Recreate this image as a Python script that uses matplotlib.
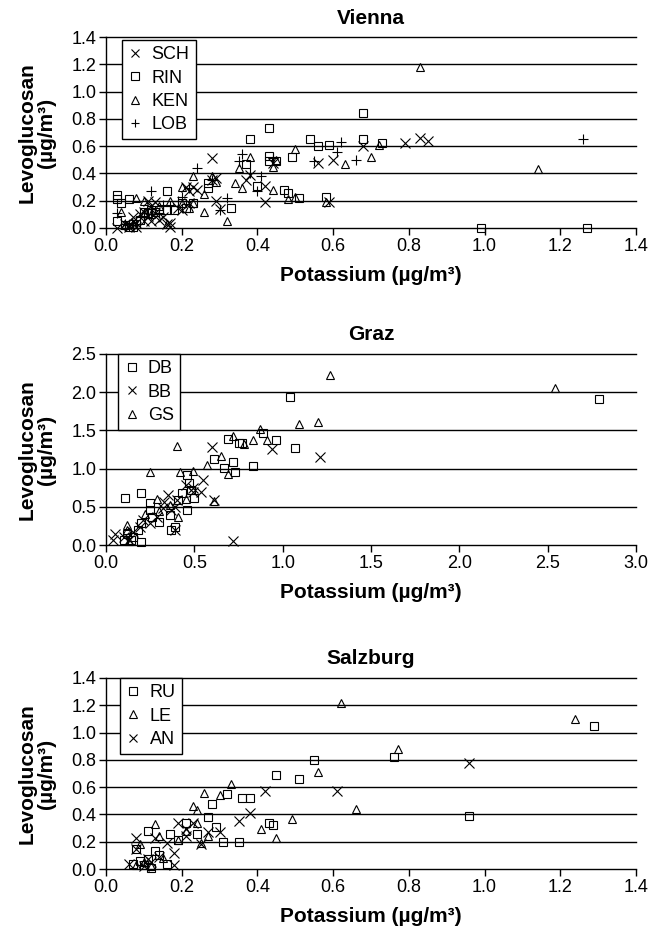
import matplotlib
matplotlib.use("Agg")
import matplotlib.pyplot as plt
from matplotlib.transforms import offset_copy

plt.rcParams['font.family'] = ['Liberation Sans', 'DejaVu Sans']

# ---------------- Vienna ----------------
vie_sch_x = [0.03, 0.05, 0.06, 0.07, 0.08, 0.09, 0.10, 0.11, 0.12, 0.12, 0.13, 0.14, 0.15, 0.16, 0.17, 0.17,
             0.20, 0.21, 0.22, 0.22, 0.23, 0.24, 0.28, 0.28, 0.29, 0.29, 0.30, 0.37, 0.38, 0.42, 0.42, 0.56,
             0.60, 0.59, 0.68, 0.79, 0.83, 0.85, 0.44, 0.10, 0.06, 0.08, 0.11, 0.13, 0.19]
vie_sch_y = [0.00, 0.03, 0.02, 0.08, 0.04, 0.10, 0.05, 0.20, 0.16, 0.05, 0.19, 0.06, 0.08, 0.03, 0.01, 0.04,
             0.13, 0.30, 0.18, 0.27, 0.30, 0.28, 0.51, 0.35, 0.20, 0.37, 0.14, 0.35, 0.39, 0.31, 0.19, 0.48,
             0.50, 0.19, 0.60, 0.62, 0.66, 0.64, 0.48, 0.12, 0.01, 0.01, 0.09, 0.11, 0.15]

vie_rin_x = [0.03, 0.03, 0.04, 0.03, 0.06, 0.07, 0.08, 0.09, 0.11, 0.12, 0.14, 0.16, 0.16, 0.18, 0.20, 0.23,
             0.27, 0.27, 0.33, 0.37, 0.38, 0.40, 0.43, 0.43, 0.43, 0.45, 0.47, 0.48, 0.49, 0.51, 0.54, 0.56,
             0.59, 0.58, 0.68, 0.68, 0.73, 0.99, 1.27, 0.10, 0.07, 0.13, 0.05, 0.06, 0.21]
vie_rin_y = [0.24, 0.21, 0.18, 0.05, 0.21, 0.01, 0.03, 0.06, 0.11, 0.13, 0.13, 0.27, 0.13, 0.13, 0.18, 0.18,
             0.29, 0.33, 0.15, 0.47, 0.65, 0.31, 0.73, 0.53, 0.49, 0.49, 0.28, 0.26, 0.52, 0.22, 0.65, 0.60,
             0.61, 0.23, 0.84, 0.65, 0.62, 0.00, 0.00, 0.12, 0.03, 0.12, 0.02, 0.01, 0.15]

vie_ken_x = [0.04, 0.05, 0.08, 0.10, 0.10, 0.14, 0.17, 0.20, 0.20, 0.23, 0.23, 0.26, 0.26, 0.28, 0.32, 0.34,
             0.35, 0.36, 0.38, 0.44, 0.44, 0.45, 0.48, 0.50, 0.50, 0.58, 0.63, 0.70, 0.72, 0.83, 1.14, 0.07,
             0.12, 0.16, 0.22, 0.29]
vie_ken_y = [0.12, 0.02, 0.22, 0.20, 0.11, 0.16, 0.20, 0.30, 0.18, 0.38, 0.18, 0.12, 0.25, 0.38, 0.05, 0.33,
             0.44, 0.29, 0.52, 0.45, 0.28, 0.50, 0.21, 0.23, 0.58, 0.19, 0.47, 0.52, 0.61, 1.18, 0.43, 0.03,
             0.10, 0.03, 0.15, 0.34]

vie_lob_x = [0.03, 0.05, 0.07, 0.09, 0.12, 0.12, 0.14, 0.15, 0.17, 0.19, 0.20, 0.22, 0.24, 0.28, 0.30, 0.32,
             0.36, 0.35, 0.38, 0.41, 0.40, 0.44, 0.55, 0.61, 0.62, 0.66, 1.26]
vie_lob_y = [0.11, 0.03, 0.02, 0.08, 0.27, 0.14, 0.11, 0.17, 0.16, 0.20, 0.23, 0.29, 0.44, 0.35, 0.13, 0.22,
             0.54, 0.49, 0.40, 0.38, 0.27, 0.51, 0.49, 0.56, 0.63, 0.50, 0.65]

# ---------------- Graz ----------------
gra_db_x = [0.11, 0.20, 1.04, 1.07, 0.69, 0.75, 0.77, 0.89, 0.96, 0.61, 0.67, 0.72, 0.73, 0.83, 0.46, 0.47,
            0.48, 0.50, 0.43, 0.41, 0.46, 0.39, 0.37, 0.25, 0.25, 0.26, 0.20, 0.18, 0.12, 0.14, 0.20, 0.10,
            0.36, 2.79, 0.30, 0.15]
gra_db_y = [0.62, 0.68, 1.94, 1.27, 1.39, 1.34, 1.33, 1.47, 1.38, 1.13, 1.01, 1.09, 0.95, 1.04, 0.92, 0.81,
            0.72, 0.62, 0.68, 0.59, 0.46, 0.24, 0.20, 0.55, 0.46, 0.37, 0.29, 0.20, 0.15, 0.07, 0.04, 0.07,
            0.39, 1.91, 0.30, 0.10]

gra_bb_x = [0.60, 0.94, 1.21, 0.72, 0.55, 0.54, 0.49, 0.61, 0.35, 0.33, 0.32, 0.39, 0.40, 0.29, 0.25, 0.19,
            0.15, 0.10, 0.05, 0.04, 0.39, 0.49, 0.13, 0.21, 0.37, 0.45]
gra_bb_y = [1.28, 1.26, 1.15, 0.05, 0.85, 0.70, 0.70, 0.59, 0.65, 0.56, 0.48, 0.50, 0.59, 0.37, 0.29, 0.24,
            0.17, 0.10, 0.15, 0.07, 0.20, 0.75, 0.07, 0.33, 0.46, 0.78]

gra_gs_x = [1.27, 1.09, 1.20, 0.87, 0.91, 0.83, 0.78, 0.72, 0.65, 0.57, 0.69, 0.40, 0.25, 0.42, 0.49, 0.61,
            0.29, 0.41, 0.12, 0.12, 2.54, 0.13, 0.30, 0.22, 0.45, 0.36]
gra_gs_y = [2.23, 1.58, 1.61, 1.52, 1.38, 1.37, 1.32, 1.43, 1.17, 1.05, 0.93, 1.30, 0.96, 0.96, 0.97, 0.58,
            0.60, 0.37, 0.26, 0.20, 2.06, 0.05, 0.45, 0.40, 0.60, 0.52]

# ---------------- Salzburg ----------------
sal_ru_x = [0.11, 0.08, 0.13, 0.17, 0.21, 0.24, 0.27, 0.29, 0.31, 0.35, 0.28, 0.32, 0.36, 0.38, 0.45, 0.51,
            0.55, 0.43, 0.44, 0.76, 0.96, 1.29, 0.07, 0.09, 0.10, 0.11, 0.12, 0.14, 0.16, 0.19]
sal_ru_y = [0.28, 0.15, 0.13, 0.26, 0.34, 0.26, 0.38, 0.31, 0.20, 0.20, 0.48, 0.55, 0.52, 0.52, 0.69, 0.66,
            0.80, 0.34, 0.32, 0.82, 0.39, 1.05, 0.04, 0.06, 0.03, 0.07, 0.01, 0.10, 0.04, 0.21]

sal_le_x = [0.62, 0.26, 0.33, 0.30, 0.23, 0.24, 0.56, 0.66, 0.49, 0.41, 0.45, 0.27, 0.25, 0.24, 0.13, 0.14,
            0.09, 1.24, 0.77, 0.08, 0.10, 0.12, 0.15, 0.19, 0.21]
sal_le_y = [1.22, 0.56, 0.62, 0.54, 0.46, 0.43, 0.71, 0.44, 0.37, 0.29, 0.23, 0.24, 0.19, 0.34, 0.33, 0.24,
            0.18, 1.10, 0.88, 0.03, 0.05, 0.02, 0.08, 0.21, 0.28]

sal_an_x = [0.42, 0.38, 0.35, 0.61, 0.30, 0.25, 0.21, 0.19, 0.23, 0.21, 0.08, 0.13, 0.16, 0.18, 0.18, 0.06,
            0.08, 0.11, 0.96, 0.10, 0.12, 0.14, 0.27]
sal_an_y = [0.57, 0.41, 0.35, 0.57, 0.27, 0.18, 0.24, 0.34, 0.34, 0.29, 0.23, 0.23, 0.19, 0.12, 0.03, 0.04,
            0.15, 0.07, 0.78, 0.02, 0.05, 0.09, 0.27]

panels = [
    dict(title="Vienna", xlim=(0, 1.4), xticks=[0, 0.2, 0.4, 0.6, 0.8, 1.0, 1.2, 1.4],
         ylim=(0, 1.4), yticks=[0, 0.2, 0.4, 0.6, 0.8, 1.0, 1.2, 1.4], bottom_px=228,
         series=[("SCH", "x", vie_sch_x, vie_sch_y), ("RIN", "s", vie_rin_x, vie_rin_y),
                 ("KEN", "^", vie_ken_x, vie_ken_y), ("LOB", "+", vie_lob_x, vie_lob_y)],
         leg=(0.03, 0.985)),
    dict(title="Graz", xlim=(0, 3.0), xticks=[0, 0.5, 1.0, 1.5, 2.0, 2.5, 3.0],
         ylim=(0, 2.5), yticks=[0, 0.5, 1.0, 1.5, 2.0, 2.5], bottom_px=545,
         series=[("DB", "s", gra_db_x, gra_db_y), ("BB", "x", gra_bb_x, gra_bb_y),
                 ("GS", "^", gra_gs_x, gra_gs_y)],
         leg=(0.023, 1.0)),
    dict(title="Salzburg", xlim=(0, 1.4), xticks=[0, 0.2, 0.4, 0.6, 0.8, 1.0, 1.2, 1.4],
         ylim=(0, 1.4), yticks=[0, 0.2, 0.4, 0.6, 0.8, 1.0, 1.2, 1.4], bottom_px=869,
         series=[("RU", "s", sal_ru_x, sal_ru_y), ("LE", "^", sal_le_x, sal_le_y),
                 ("AN", "x", sal_an_x, sal_an_y)],
         leg=(0.026, 1.0)),
]

W, H = 652, 936
fig = plt.figure(figsize=(W / 100, H / 100), dpi=100)

for p in panels:
    ax = fig.add_axes([106 / W, 1 - p["bottom_px"] / H, 530 / W, 191 / H])
    for label, mk, xs, ys in p["series"]:
        ms = 6.5 if mk in ("x", "+") else 6
        ax.plot(xs, ys, linestyle="none", marker=mk, ms=ms, mfc="none", mec="black",
                mew=0.8, label=label, clip_on=False, zorder=3)
    ax.set_xlim(*p["xlim"])
    ax.set_ylim(*p["ylim"])
    ax.set_xticks(p["xticks"])
    ax.set_yticks(p["yticks"])
    ax.set_xticklabels([f"{v:.1f}" for v in p["xticks"]], fontsize=13)
    ax.set_yticklabels([f"{v:.1f}" for v in p["yticks"]], fontsize=13)
    ax.tick_params(direction="out", length=5, width=1, color="black", pad=2)
    for yv in p["yticks"][1:]:
        ax.axhline(yv, color="black", lw=1.0, zorder=1, clip_on=False)
    ax.spines["top"].set_visible(False)
    ax.spines["right"].set_visible(False)
    ax.spines["left"].set_linewidth(1)
    ax.spines["bottom"].set_linewidth(1)
    ax.set_xlabel("Potassium (µg/m³)", fontsize=15, fontweight="bold")
    ax.xaxis.set_label_coords(0.5, -0.20)
    ax.set_ylabel("Levoglucosan\n(µg/m³)", fontsize=15, fontweight="bold", linespacing=1.0)
    ax.yaxis.set_label_coords(-0.095, 0.5)
    tt = offset_copy(ax.transAxes, fig=fig, x=0, y=19 * 0.72, units="points")
    ax.text(0.5, 1.0, p["title"], transform=tt, ha="center", va="center",
            fontsize=15, fontweight="bold")
    leg = ax.legend(loc="upper left", bbox_to_anchor=p["leg"], fontsize=13, frameon=True,
                    fancybox=False, edgecolor="black", framealpha=1, borderpad=0.35,
                    labelspacing=0.35, handlelength=0.8, handletextpad=0.5, borderaxespad=0,
                    markerscale=0.9)
    leg.get_frame().set_linewidth(1.0)
    leg.set_zorder(5)

fig.savefig("out.png", dpi=100)
